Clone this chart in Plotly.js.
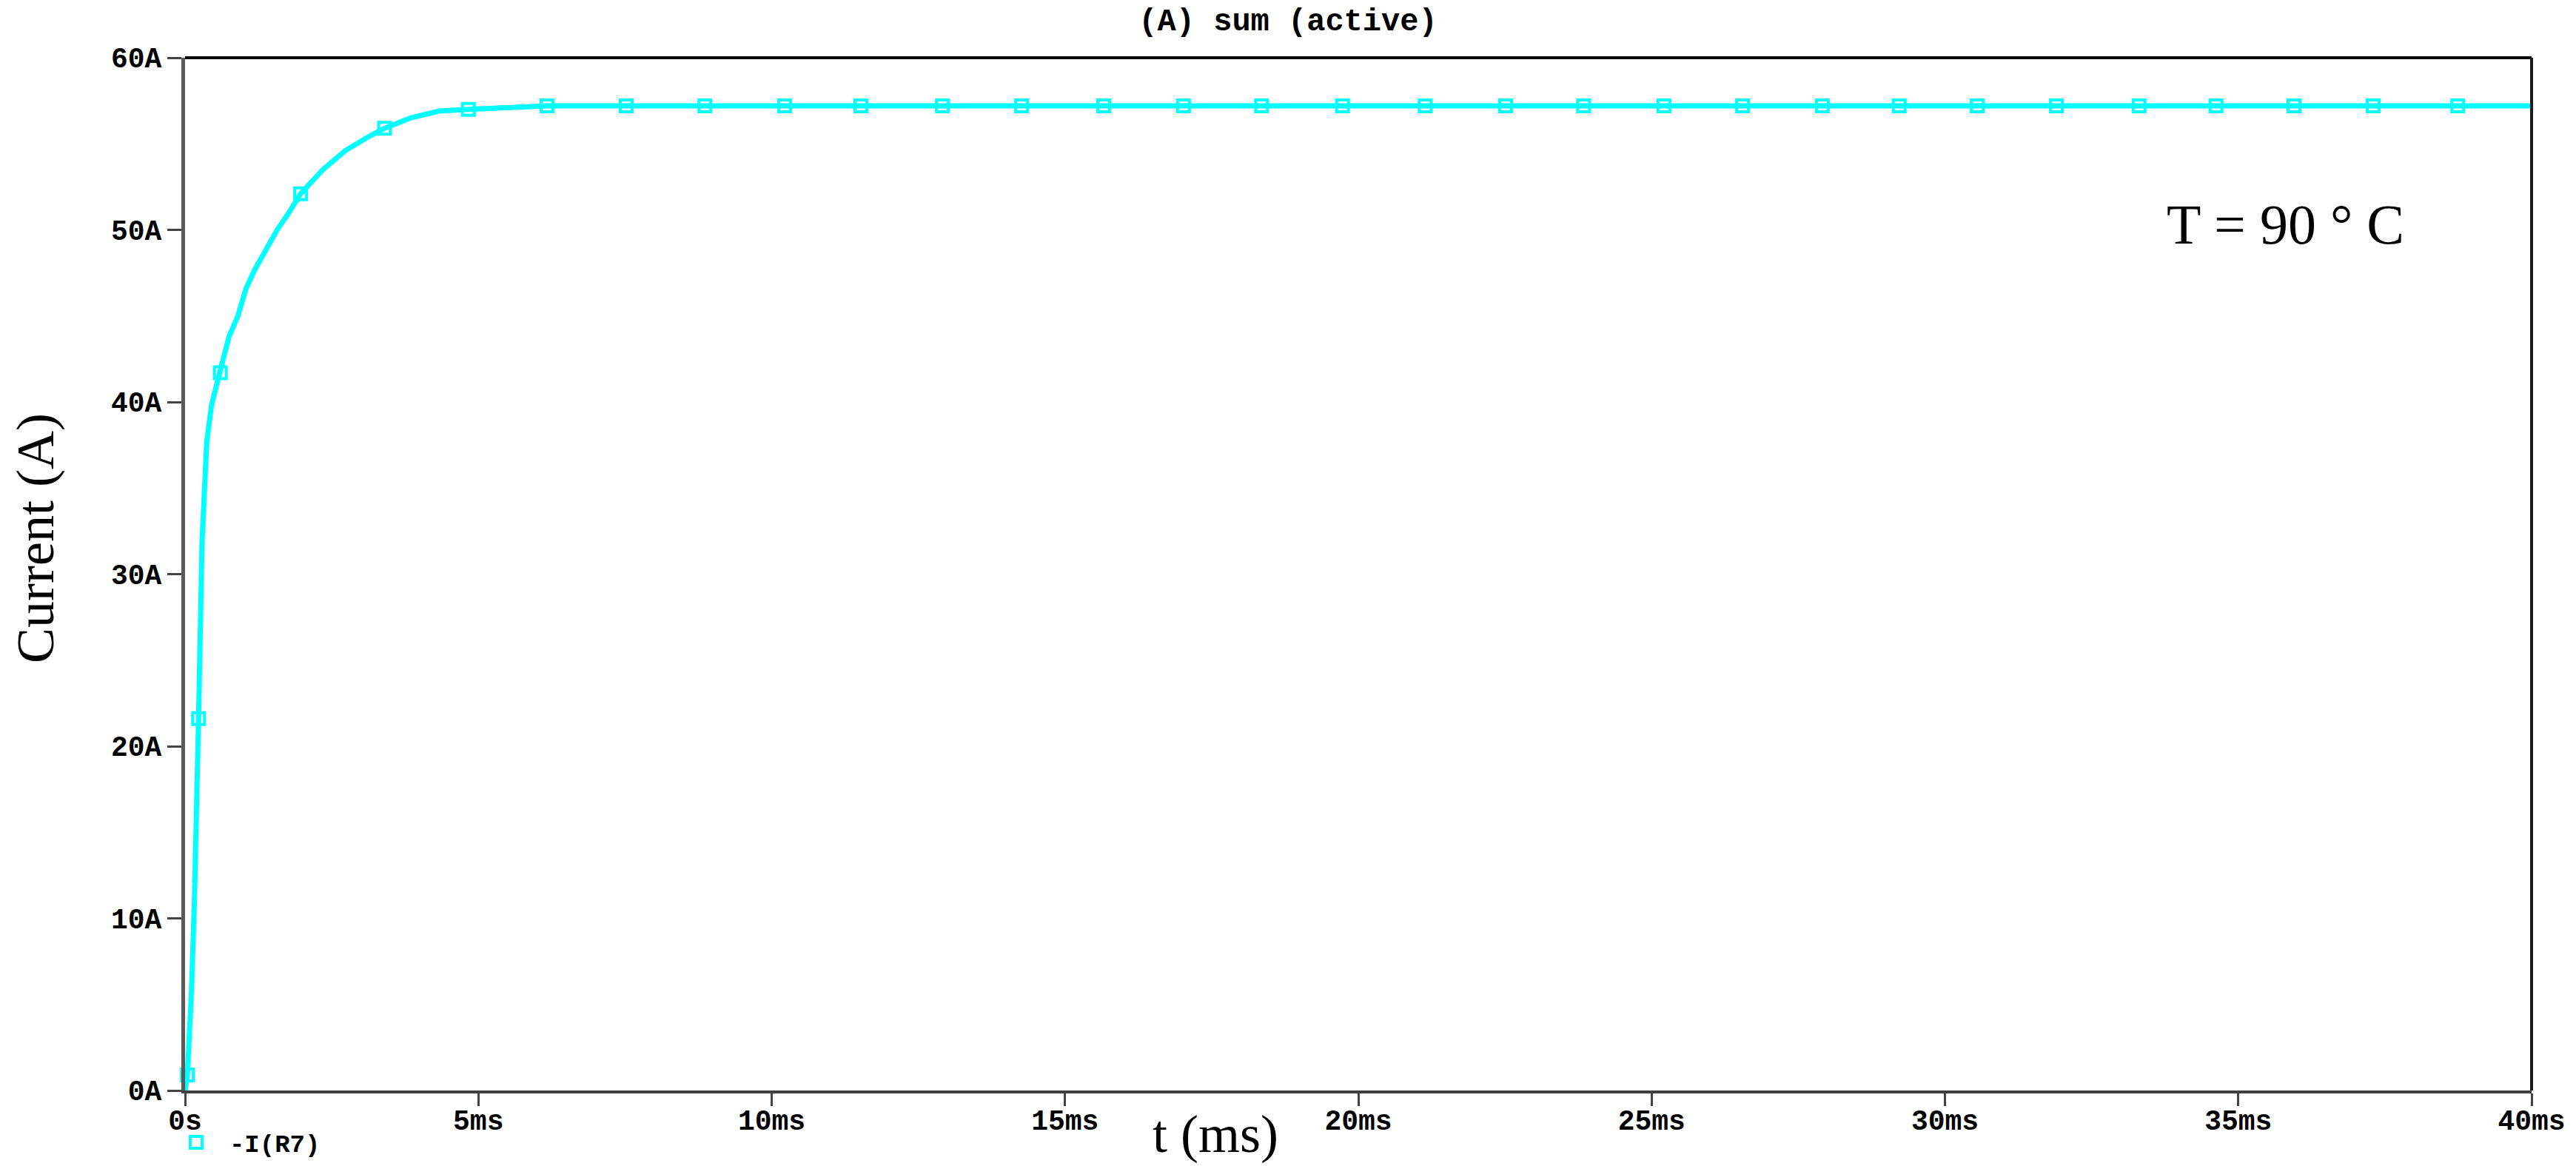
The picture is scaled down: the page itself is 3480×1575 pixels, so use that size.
<!DOCTYPE html>
<html>
<head>
<meta charset="utf-8">
<script src="https://cdn.plot.ly/plotly-3.0.1.min.js"></script>
<style>
  html, body { margin: 0; padding: 0; background: #ffffff; }
  #chart { width: 3480px; height: 1575px; }
</style>
</head>
<body>
<div id="chart"></div>
<script>
// Simulated current through R7
const timeMs = [0, 0.04, 0.11, 0.16, 0.23, 0.29, 0.37, 0.45, 0.59, 0.75, 0.9, 1.04, 1.19, 1.38, 1.57, 1.77, 1.97, 2.35, 2.73, 3.12, 3.4, 3.84, 4.33, 4.83, 5.5, 6.17, 40];
const currentA = [0, 0.9, 5.8, 11.1, 21.6, 31.9, 37.7, 39.8, 41.7, 43.8, 45.0, 46.6, 47.7, 48.9, 50.0, 51.0, 52.1, 53.5, 54.6, 55.4, 55.9, 56.5, 56.9, 57.0, 57.1, 57.2, 57.2];

// Marker positions drawn on the trace
const markerTimeMs = [0.04, 0.23, 0.6, 1.97, 3.4, 4.83, 6.17, 7.52, 8.86, 10.22, 11.52, 12.91, 14.26, 15.66, 17.02, 18.35, 19.73, 21.14, 22.51, 23.84, 25.21, 26.55, 27.91, 29.22, 30.55, 31.9, 33.31, 34.62, 35.95, 37.3, 38.74];
const markerCurrentA = [0.9, 21.6, 41.7, 52.1, 55.9, 57.0, 57.2, 57.2, 57.2, 57.2, 57.2, 57.2, 57.2, 57.2, 57.2, 57.2, 57.2, 57.2, 57.2, 57.2, 57.2, 57.2, 57.2, 57.2, 57.2, 57.2, 57.2, 57.2, 57.2, 57.2, 57.2];

// Axis ticks
const xTickVals = [0, 5, 10, 15, 20, 25, 30, 35, 40];
const xTickText = ['0s', '5ms', '10ms', '15ms', '20ms', '25ms', '30ms', '35ms', '40ms'];
const yTickVals = [0, 10, 20, 30, 40, 50, 60];
const yTickText = ['0A', '10A', '20A', '30A', '40A', '50A', '60A'];

const traceColor = '#00ffff';
const monoFamily = 'Liberation Mono, DejaVu Sans Mono, monospace';
const monoFont = { family: monoFamily, size: 38, color: '#000000', weight: 'bold' };
const serifFont = { family: 'Liberation Serif, Times New Roman, serif', size: 72, color: '#000000' };

const data = [{
    x: timeMs,
    y: currentA,
    type: 'scatter',
    mode: 'lines',
    line: { color: traceColor, width: 7 },
    showlegend: false,
    hoverinfo: 'skip'
}, {
    x: markerTimeMs,
    y: markerCurrentA,
    type: 'scatter',
    mode: 'markers',
    name: '-I(R7)',
    marker: {
        symbol: 'square-open',
        size: 16,
        color: traceColor,
        line: { color: traceColor, width: 4 }
    },
    cliponaxis: false
}];

const layout = {
    width: 3480,
    height: 1575,
    paper_bgcolor: '#ffffff',
    plot_bgcolor: '#ffffff',
    margin: { l: 250, r: 60, t: 78, b: 102 },
    title: {
        text: '(A) sum (active)',
        font: { family: monoFamily, size: 42, color: '#000000', weight: 'bold' },
        x: 0.5,
        xref: 'container',
        xanchor: 'center',
        y: 0.983,
        yref: 'container',
        yanchor: 'middle'
    },
    xaxis: {
        range: [0, 40],
        tickvals: xTickVals,
        ticktext: xTickText,
        tickfont: monoFont,
        ticks: 'outside',
        ticklen: 17,
        tickwidth: 3,
        tickcolor: '#444444',
        ticklabelstandoff: -14,
        showgrid: false,
        zeroline: false,
        showline: true,
        linecolor: '#404040',
        linewidth: 4,
        automargin: false
    },
    yaxis: {
        range: [0, 60],
        tickvals: yTickVals,
        ticktext: yTickText,
        tickfont: monoFont,
        ticks: 'outside',
        ticklen: 19,
        tickwidth: 3,
        tickcolor: '#444444',
        showgrid: false,
        zeroline: false,
        showline: true,
        linecolor: '#5a5a5a',
        linewidth: 5,
        automargin: false
    },
    // top and right border of the plot frame
    shapes: [
        { type: 'line', xref: 'paper', yref: 'paper', x0: 0, x1: 1, y0: 1, y1: 1, line: { color: '#000000', width: 4 } },
        { type: 'line', xref: 'paper', yref: 'paper', x0: 1, x1: 1, y0: 0, y1: 1, line: { color: '#1a1a1a', width: 4 } }
    ],
    showlegend: true,
    legend: {
        orientation: 'h',
        xref: 'container',
        yref: 'container',
        x: 0.0632,
        xanchor: 'left',
        y: 0.02,
        yanchor: 'middle',
        itemwidth: 80,
        font: { family: monoFamily, size: 34, color: '#000000', weight: 'bold' },
        bgcolor: 'rgba(0,0,0,0)'
    },
    annotations: [{
        text: 'Current (A)',
        xref: 'paper', yref: 'paper',
        x: -0.0637, y: 0.5348,
        xanchor: 'center', yanchor: 'middle',
        textangle: -90,
        showarrow: false,
        font: serifFont
    }, {
        text: 't (ms)',
        xref: 'paper', yref: 'paper',
        x: 0.4391, y: -0.0423,
        xanchor: 'center', yanchor: 'middle',
        showarrow: false,
        font: serifFont
    }, {
        text: 'T = 90 ° C',
        xref: 'paper', yref: 'paper',
        x: 0.895, y: 0.8387,
        xanchor: 'center', yanchor: 'middle',
        showarrow: false,
        font: { family: serifFont.family, size: 76, color: '#000000' }
    }]
};

Plotly.newPlot('chart', data, layout, { displayModeBar: false, responsive: false });
</script>
</body>
</html>
